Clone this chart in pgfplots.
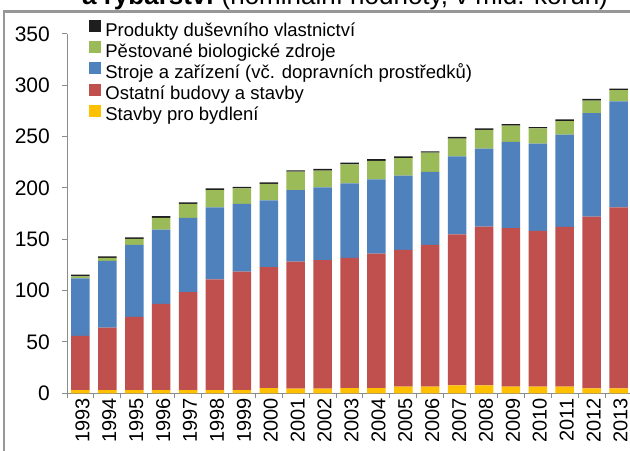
\documentclass[border=0pt]{standalone}
\usepackage{fontspec}
\setmainfont{Liberation Sans}
\usepackage{pgfplots}
\usepackage{pgfplotstable}
\pgfplotsset{compat=1.18}
\definecolor{cBlack}{HTML}{1E1E1E}
\definecolor{cGreen}{HTML}{9BBB59}
\definecolor{cBlue}{HTML}{4F81BD}
\definecolor{cRed}{HTML}{C0504D}
\definecolor{cYellow}{HTML}{FFC000}
\definecolor{cAxis}{HTML}{8C8C8C}
\pgfplotstableread{
x yel red blue green black
0 3 53 56 2 1.5
1 3 61 65 3 1.5
2 3 71.5 70 6 1.5
3 3 84 72.5 11.5 1.5
4 3 95.5 72.5 13.5 1.5
5 3 108 70 17 1.5
6 3 115.5 66 15 1.5
7 5 118 65 16 1.5
8 4.5 123.7 69.8 17.9 1.3
9 4.5 125.3 70.8 16.3 1.6
10 5 127 72.5 18.5 1.7
11 5 131 72.4 17.9 1.7
12 6.5 133.1 72.4 17.2 1.7
13 6.5 138 71.1 18.8 1.3
14 7.8 147.1 76 17.1 1.8
15 7.8 154.5 76 18.2 1.6
16 6.5 154.5 83.8 15.9 1.6
17 6.5 151.6 85 15 1.3
18 6.5 155.5 89.9 13.3 1.7
19 4.8 167.2 101 12 1.7
20 4.8 176.4 103.2 11 1.4
}\datatable
\begin{document}
\begin{tikzpicture}
\begin{axis}[
  at={(67bp,57.7bp)}, anchor=south west,
  scale only axis, width=565bp, height=359.3bp,
  xmin=-0.5, xmax=20.5, ymin=0, ymax=350,
  ybar stacked, bar width=18.5bp,
  /pgf/number format/assume math mode=true,
  axis x line*=bottom, axis y line*=left,
  axis line style={cAxis, line width=1bp},
  ytick={0,50,...,350},
  ytick style={cAxis, line width=1bp},
  tick align=outside, major tick length=5bp,
  yticklabel style={font=\fontsize{21bp}{25bp}\selectfont, anchor=east, inner sep=0pt, xshift=-12bp},
  xtick={0,...,20},
  xticklabels={1993,1994,1995,1996,1997,1998,1999,2000,2001,2002,2003,2004,2005,2006,2007,2008,2009,2010,2011,2012,2013},
  xtick style={draw=none},
  xticklabel style={font=\fontsize{20bp}{24bp}\selectfont, rotate=90, anchor=east, inner sep=0pt, yshift=-2bp},
  extra x ticks={-0.5,0.5,...,20.5},
  extra x tick labels={},
  extra x tick style={xtick style={draw=cAxis, line width=1bp}, major tick length=5bp},
  reverse legend,
  legend cell align=left,
  legend style={at={(0.034,1.044)}, anchor=north west, draw=none, fill=none,
    font=\fontsize{18.5bp}{21bp}\selectfont,
    nodes={inner sep=0pt, text height=13.5bp, text depth=4bp},
    row sep=0.8bp,
    /tikz/every odd column/.style={column sep=4bp}},
  legend image code/.code={\fill[#1] (0bp,-0.5bp) rectangle (12bp,11.5bp);},
]
\addplot[fill=cYellow, draw=none] table[x=x, y=yel] {\datatable};
\addplot[fill=cRed, draw=none] table[x=x, y=red] {\datatable};
\addplot[fill=cBlue, draw=none] table[x=x, y=blue] {\datatable};
\addplot[fill=cGreen, draw=none] table[x=x, y=green] {\datatable};
\addplot[fill=cBlack, draw=none] table[x=x, y=black] {\datatable};
\legend{Stavby pro bydlení, Ostatní budovy a stavby, Stroje a zařízení (vč. dopravních prostředků), Pěstované biologické zdroje, Produkty duševního vlastnictví}
\end{axis}
\draw[cAxis!90, line width=2.2bp] (4bp,-5bp) -- (4bp,439.5bp) -- (640bp,439.5bp);
\node[anchor=base west, inner sep=0pt, font=\fontsize{26bp}{30bp}\selectfont] at (82bp,446bp) {\textbf{a rybářství} (nominální hodnoty, v mld. korun)};
\pgfresetboundingbox
\path[use as bounding box] (0,0) rectangle (630bp,451bp);
\end{tikzpicture}
\end{document}
